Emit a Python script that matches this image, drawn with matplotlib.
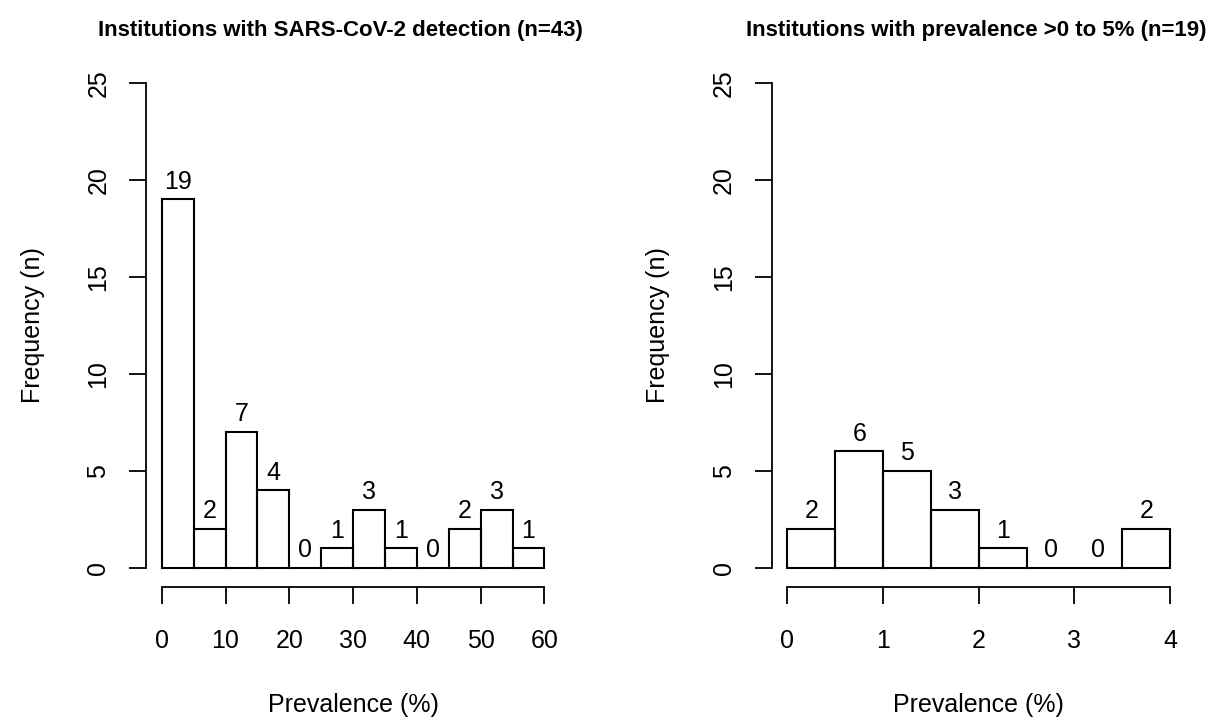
import numpy as np
import matplotlib.pyplot as plt

plt.rcParams['font.family'] = ['Liberation Sans', 'DejaVu Sans']

# left histogram: all institutions with detection
left_edges = [0, 5, 10, 15, 20, 25, 30, 35, 40, 45, 50, 55, 60]
left_counts = [19, 2, 7, 4, 0, 1, 3, 1, 0, 2, 3, 1]
left_ticks = [0, 10, 20, 30, 40, 50, 60]

# right histogram: prevalence >0 to 5%
right_edges = [0, 0.5, 1, 1.5, 2, 2.5, 3, 3.5, 4]
right_counts = [2, 6, 5, 3, 1, 0, 0, 2]
right_ticks = [0, 1, 2, 3, 4]

y_ticks = [0, 5, 10, 15, 20, 25]

titles = ["Institutions with SARS-CoV-2 detection (n=43)",
          "Institutions with prevalence >0 to 5% (n=19)"]

fig = plt.figure(figsize=(12.19, 7.21), dpi=100)
ax1 = fig.add_axes([0.1201, 0.1857, 0.3391, 0.7265])
ax2 = fig.add_axes([0.6334, 0.1857, 0.3391, 0.7265])


def draw_hist(ax, edges, counts, xticks, title, title_x):
    edges = np.array(edges)
    widths = np.diff(edges)
    ax.bar(edges[:-1], counts, width=widths, align='edge', fill=False,
           edgecolor='black', linewidth=1.5)
    for x, w, c in zip(edges[:-1], widths, counts):
        ax.annotate(str(c), (x + w / 2, c), xytext=(0, 4),
                    textcoords='offset points', ha='center', va='bottom',
                    fontsize=18)
    lo, hi = edges[0], edges[-1]
    pad = (hi - lo) * 0.04
    ax.set_xlim(lo - pad, hi + pad)
    ax.set_ylim(-1, 26)
    for s in ['top', 'right']:
        ax.spines[s].set_visible(False)
    ax.spines['left'].set_bounds(0, 25)
    ax.spines['bottom'].set_bounds(lo, hi)
    ax.spines['left'].set_linewidth(1.3)
    ax.spines['bottom'].set_linewidth(1.3)
    ax.set_xticks(xticks)
    ax.set_yticks(y_ticks)
    ax.set_yticklabels([str(t) for t in y_ticks], rotation=90, va='center')
    ax.tick_params(length=12, width=1.3, labelsize=18)
    ax.tick_params(axis='x', pad=18)
    ax.tick_params(axis='y', pad=14)
    ax.set_xlabel("Prevalence (%)", fontsize=18, labelpad=29)
    ax.set_ylabel("Frequency (n)", fontsize=18, labelpad=30)
    ax.set_title(title, fontsize=16, fontweight='bold', pad=20, x=title_x)


draw_hist(ax1, left_edges, left_counts, left_ticks, titles[0], 0.47)
draw_hist(ax2, right_edges, right_counts, right_ticks, titles[1], 0.495)

fig.savefig("out.png", dpi=100)
plt.close()
